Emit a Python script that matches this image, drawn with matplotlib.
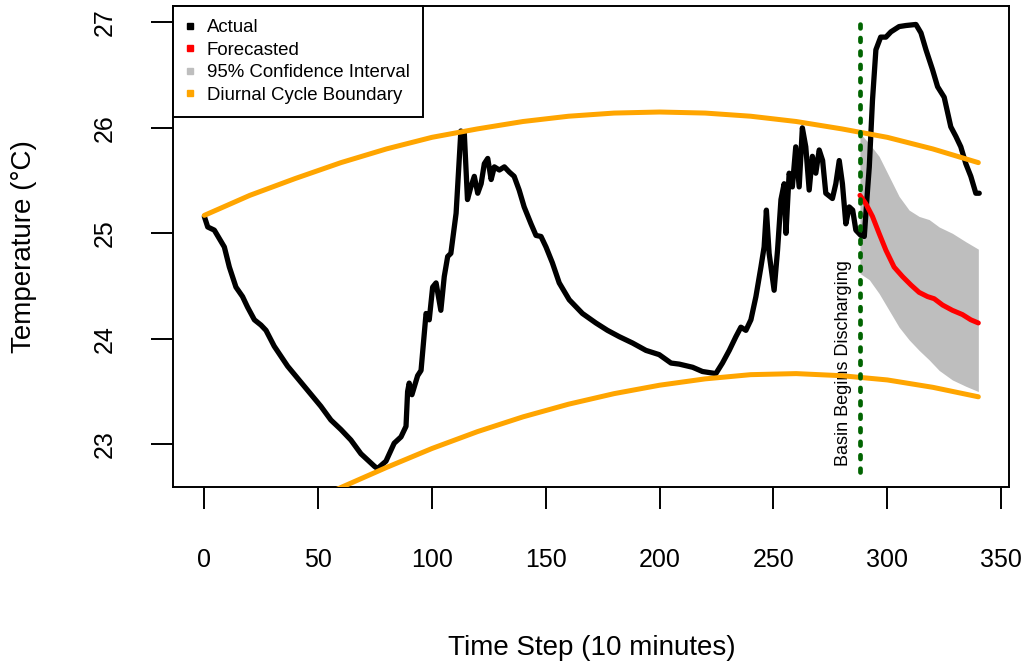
import matplotlib
matplotlib.use("Agg")
import matplotlib.pyplot as plt
from matplotlib.lines import Line2D

plt.rcParams['font.family'] = ['Liberation Sans', 'DejaVu Sans']

# observed water temperature, time steps of 10 minutes
actual_t = [0, 1.5, 4.4, 8.8, 11, 13.9, 16.8, 19, 22, 24.9, 27.1, 30.7, 36.6, 45.4,
            51.2, 55.6, 60, 64.4, 68.8, 74.8, 76.1, 79.8, 83.4, 86.4, 88.6, 89.3, 90.0,
            91.2, 93.7, 95.2, 97.4, 98.8, 100.3, 101.8, 103.9, 105.4, 106.9, 108.3,
            109.8, 110.6, 112.7, 114.2, 115.6, 117.1, 118.6, 120.1, 121.6, 123.0, 124.5,
            126.0, 127.4, 129.6, 131.8, 134.0, 136.1, 138.3, 140.5, 143.5, 145.7, 147.9,
            150.1, 152.9, 155.9, 160.3, 166.1, 172.0, 177.1, 182.3, 188.1, 194.0, 199.8,
            205.0, 208.6, 214.5, 218.8, 224.7, 227.6, 230.6, 233.5, 235.7, 237.9, 240.1,
            242.3, 244.5, 245.9, 246.9, 248.1, 250.3, 251.8, 253.3, 254.7, 255.5, 256.9,
            258.3, 259.8, 261.3, 262.7, 264.2, 265.7, 267.1, 268.6, 270.1, 271.6, 273.0,
            275.9, 277.4, 278.9, 280.3, 281.8, 283.3, 284.8, 286.2, 288.4, 289.9, 291.3,
            292.1, 293.5, 295.0, 297.1, 299.4, 301.6, 305.2, 308.2, 312.6, 314.8, 317.0,
            319.9, 322.1, 325.0, 327.9, 330.1, 332.3, 334.5, 336.7, 338.9, 340.4]
actual_temp = [25.16, 25.06, 25.03, 24.87, 24.68, 24.49, 24.40, 24.30, 24.18, 24.13, 24.08,
               23.93, 23.74, 23.51, 23.36, 23.23, 23.14, 23.04, 22.91, 22.79, 22.77, 22.84,
               23.01, 23.07, 23.17, 23.50, 23.58, 23.47, 23.65, 23.70, 24.24, 24.18, 24.49,
               24.53, 24.27, 24.59, 24.78, 24.81, 25.06, 25.19, 25.97, 25.95, 25.32, 25.44,
               25.54, 25.38, 25.47, 25.66, 25.71, 25.51, 25.63, 25.60, 25.63, 25.58, 25.54,
               25.41, 25.25, 25.09, 24.98, 24.97, 24.87, 24.72, 24.53, 24.37, 24.24, 24.15,
               24.08, 24.02, 23.96, 23.89, 23.85, 23.77, 23.76, 23.73, 23.69, 23.67, 23.77,
               23.89, 24.02, 24.11, 24.08, 24.18, 24.40, 24.68, 24.87, 25.22, 24.81, 24.46,
               24.84, 25.32, 25.47, 25.00, 25.57, 25.44, 25.82, 25.44, 26.00, 25.82, 25.41,
               25.73, 25.57, 25.79, 25.69, 25.38, 25.33, 25.47, 25.69, 25.47, 25.09, 25.25,
               25.22, 25.03, 24.98, 24.97, 25.40, 25.63, 26.26, 26.74, 26.86, 26.86, 26.91,
               26.96, 26.97, 26.98, 26.90, 26.74, 26.55, 26.39, 26.29, 26.01, 25.92, 25.82,
               25.66, 25.54, 25.38, 25.38]

# model forecast after the basin starts discharging
forecast_t = [288, 290.6, 293.5, 296.4, 299.4, 303, 306.7, 310.4, 314, 317.7, 320.6,
              324.3, 328.6, 333, 336.7, 340]
forecast_temp = [25.36, 25.28, 25.16, 25.00, 24.84, 24.68, 24.59, 24.51, 24.44, 24.40,
                 24.38, 24.32, 24.27, 24.23, 24.18, 24.15]

# 95% confidence band of the forecast
ci_t = [288, 292.1, 296.4, 300.8, 305.2, 309.6, 314, 318.4, 322.8, 328.6, 334.5, 340]
ci_upper = [25.95, 25.85, 25.73, 25.54, 25.35, 25.22, 25.16, 25.13, 25.06, 25.00, 24.92, 24.85]
ci_lower = [24.62, 24.56, 24.43, 24.27, 24.11, 23.99, 23.89, 23.80, 23.70, 23.61, 23.55, 23.50]

# diurnal cycle envelope
upper_t = [0, 20, 40, 60, 80, 100, 120, 140, 160, 180, 200, 220, 240, 260, 280, 300, 320, 340]
upper_temp = [25.17, 25.36, 25.52, 25.67, 25.80, 25.91, 25.99, 26.06, 26.11, 26.14, 26.15,
              26.14, 26.11, 26.06, 25.99, 25.91, 25.80, 25.67]
lower_t = [0, 20, 40, 60, 80, 100, 120, 140, 160, 180, 200, 220, 240, 260, 280, 300, 320, 340]
lower_temp = [21.96, 22.18, 22.39, 22.59, 22.78, 22.96, 23.12, 23.26, 23.38, 23.48, 23.56,
              23.62, 23.66, 23.67, 23.65, 23.61, 23.54, 23.45]

discharge_start = 288
xticks = [0, 50, 100, 150, 200, 250, 300, 350]
yticks = [23, 24, 25, 26, 27]

fig = plt.figure(figsize=(10.3, 6.67), dpi=100)
ax = fig.add_axes([0.1683, 0.2694, 0.8116, 0.7216])

ax.fill_between(ci_t, ci_lower, ci_upper, color='#BEBEBE', lw=0, zorder=1)
ax.plot(actual_t, actual_temp, color='black', lw=3.8, solid_joinstyle='round',
        solid_capstyle='round', zorder=2)
ax.plot(forecast_t, forecast_temp, color='red', lw=3.6, solid_capstyle='round', zorder=3)
ax.plot(upper_t, upper_temp, color='orange', lw=3.6, solid_capstyle='round', zorder=4)
ax.plot(lower_t, lower_temp, color='orange', lw=3.6, solid_capstyle='round', zorder=4)
ax.plot([discharge_start, discharge_start], [22.74, 27.07], color='#006400', lw=3.4,
        linestyle=(0, (0.8, 2.05)), dash_capstyle='round', zorder=5)
ax.text(280.6, 23.77, 'Basin Begins Discharging', rotation=90, ha='center', va='center',
        fontsize=13)

ax.set_xlim(-13.6, 353.6)
ax.set_ylim(22.592, 27.155)
ax.set_xticks(xticks)
ax.set_yticks(yticks)
ax.tick_params(axis='both', length=15.8, width=1.4, labelsize=18)
ax.tick_params(axis='x', pad=28)
ax.tick_params(axis='y', pad=25, labelrotation=90)
for lbl in ax.get_yticklabels():
    lbl.set_va('center')
for s in ax.spines.values():
    s.set_linewidth(1.4)

ax.set_xlabel('Time Step (10 minutes)', fontsize=20, va='top')
ax.xaxis.set_label_coords(0.5, -0.307)
ax.set_ylabel('Temperature (°C)', fontsize=20)
ax.yaxis.set_label_coords(-0.163, 0.5)

handles = [Line2D([], [], marker='s', ls='none', color=c, markersize=5)
           for c in ['black', 'red', '#BEBEBE', 'orange']]
labels = ['Actual', 'Forecasted', '95% Confidence Interval', 'Diurnal Cycle Boundary']
leg = ax.legend(handles, labels, loc='upper left', bbox_to_anchor=(0, 1),
                borderaxespad=0, fontsize=13.4, handlelength=0.4, handletextpad=0.7,
                borderpad=0.7, labelspacing=0.3, fancybox=False, framealpha=1)
leg.get_frame().set_edgecolor('black')
leg.get_frame().set_linewidth(1.4)
leg.set_zorder(6)

fig.savefig('out.png', dpi=100)
